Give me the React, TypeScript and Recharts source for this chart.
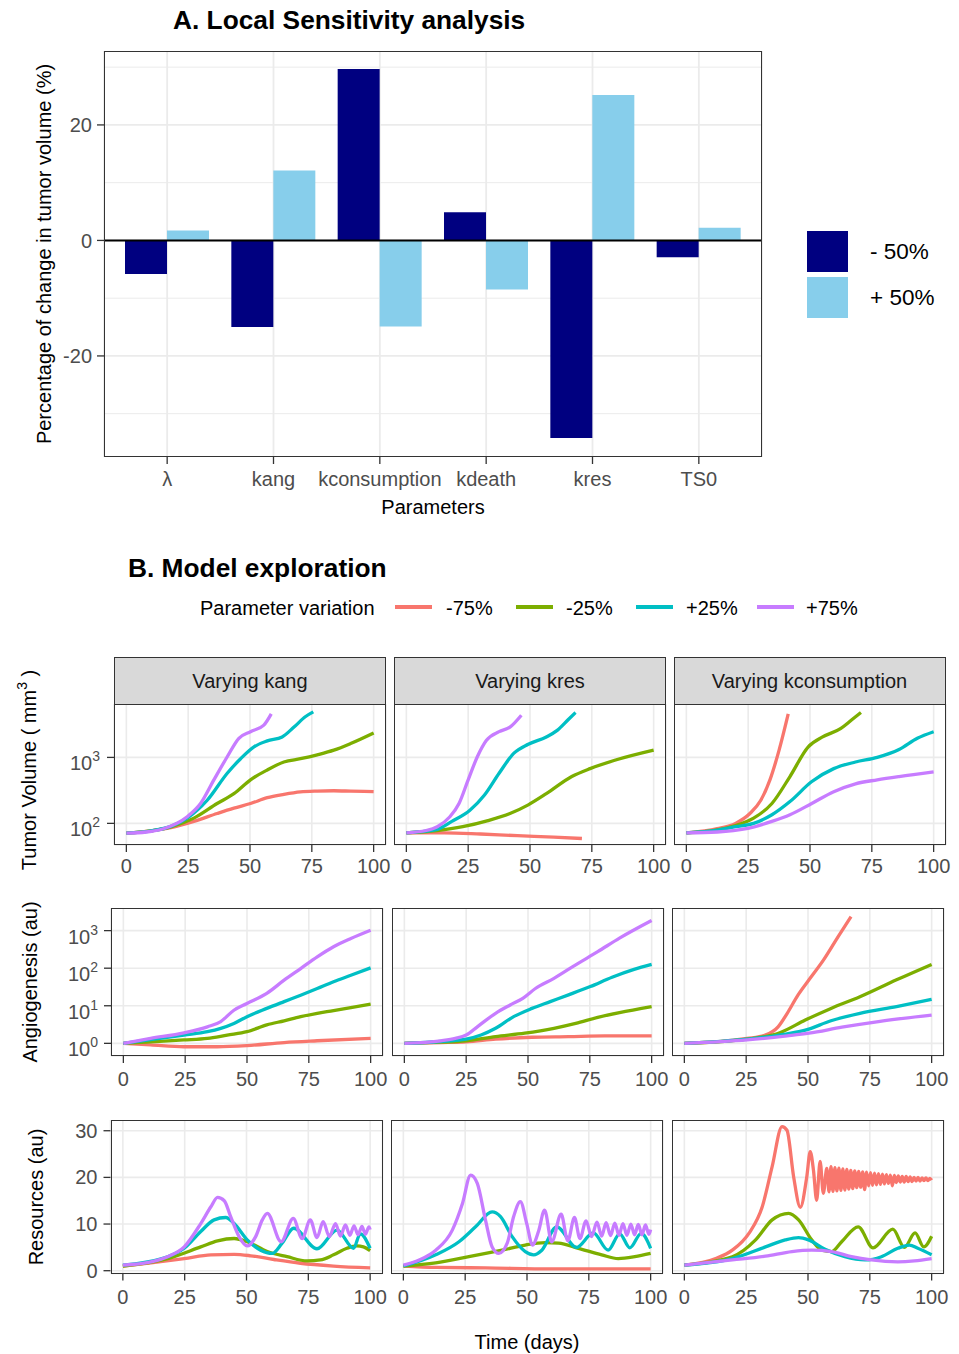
import React from "react";
import {
  BarChart,
  Bar,
  LineChart,
  Line,
  XAxis,
  YAxis,
  CartesianGrid,
  ReferenceLine,
} from "recharts";

const FONT = '"Liberation Sans", Arial, Helvetica, sans-serif';
const TICK_GREY = "#4d4d4d";
const BORDER = "#333333";
const GRID = "#ebebeb";

// ---------- A. Local sensitivity analysis ----------
const parameters = ["λ", "kang", "kconsumption", "kdeath", "kres", "TS0"];
const changeMinus50 = [-5.8, -15.0, 29.7, 4.9, -34.2, -2.9];
const changePlus50 = [1.7, 12.1, -14.9, -8.5, 25.2, 2.2];
const sensTicks = [-20, 0, 20];
const sensMinorTicks = [-30, -10, 10, 30];
const sensLegend = ["- 50%", "+ 50%"];
const sensColors = ["#000080", "#87CEEB"];

// ---------- B. Model exploration ----------
const variationLabels = ["-75%", "-25%", "+25%", "+75%"];
const variationColors = ["#F8766D", "#7CAE00", "#00BFC4", "#C77CFF"];
const facetTitles = ["Varying kang", "Varying kres", "Varying kconsumption"];
const timeTicks = [0, 25, 50, 75, 100];

type Pt = [number, number]; // [day, value]

// tumor volume (mm3)
const tumorKangM75: Pt[] = [[0, 71], [10, 77], [18, 86], [27.3, 107], [36.7, 141], [43.5, 170], [50.2, 200], [57, 245], [63.7, 275], [70.4, 300], [77.2, 309], [83.9, 312], [90.7, 308], [100, 302]];
const tumorKangM25: Pt[] = [[0, 71], [10, 77], [18, 88], [27.3, 120], [36.7, 200], [43.5, 282], [50.2, 457], [57, 646], [63.7, 851], [70.4, 955], [77.2, 1096], [83.9, 1288], [90.7, 1622], [100, 2344]];
const tumorKangP25: Pt[] = [[0, 71], [10, 77], [18, 90], [24.6, 120], [32.7, 224], [40.8, 575], [46.2, 955], [51.6, 1445], [57, 1778], [63, 2042], [67.8, 2884], [72.5, 4169], [75.6, 4898]];
const tumorKangP75: Pt[] = [[0, 71], [8, 74], [15, 83], [24.6, 126], [30, 200], [35.4, 457], [40.8, 1023], [45.5, 1950], [50.2, 2455], [55.6, 3090], [58.6, 4571]];

const tumorKresM75: Pt[] = [[0, 72], [15.4, 72], [30, 69], [44.9, 65], [59.6, 62], [71, 59]];
const tumorKresM25: Pt[] = [[0, 72], [12.5, 78], [22.8, 89], [33, 110], [41.9, 141], [49.3, 191], [56.6, 282], [66.9, 513], [74.3, 676], [84.6, 912], [100, 1288]];
const tumorKresP25: Pt[] = [[0, 72], [8, 76], [12.5, 81], [18.4, 107], [25.7, 158], [31.6, 269], [37.5, 575], [43.4, 1148], [49.3, 1585], [56.6, 2042], [61, 2570], [65.4, 3715], [68.4, 4786]];
const tumorKresP75: Pt[] = [[0, 72], [8, 78], [12.5, 89], [17.6, 126], [21.3, 200], [25, 457], [28.7, 1023], [32.4, 1820], [37.5, 2455], [41.9, 2884], [46.5, 4365]];

const tumorConsM75: Pt[] = [[0, 72], [12.5, 83], [19.9, 100], [25.7, 141], [30.1, 224], [33.8, 457], [37.5, 1288], [41.2, 4571]];
const tumorConsM25: Pt[] = [[0, 72], [12.5, 80], [19.9, 93], [27.2, 120], [34.6, 200], [41.9, 513], [49.3, 1445], [55.1, 2042], [62.5, 2754], [66.9, 3715], [70.6, 4786]];
const tumorConsP25: Pt[] = [[0, 72], [12.5, 79], [19.9, 89], [27.2, 100], [34.6, 135], [41.9, 214], [50.6, 427], [59.6, 676], [68.4, 851], [77.2, 1000], [86, 1318], [93.4, 1950], [100, 2455]];
const tumorConsP75: Pt[] = [[0, 72], [12.5, 74], [24.3, 83], [34.6, 107], [41.9, 135], [50.7, 200], [59.6, 302], [68.4, 398], [77.2, 457], [86, 513], [100, 603]];

// angiogenesis (au)
const angioKangM75: Pt[] = [[0, 1], [11, 0.91], [24.5, 0.81], [38, 0.81], [50, 0.87], [65, 1.05], [78.4, 1.17], [100, 1.35]];
const angioKangM25: Pt[] = [[0, 1], [11, 1.1], [24.5, 1.23], [34, 1.35], [42, 1.66], [50, 2.04], [58, 3.09], [65, 3.98], [71.7, 5.13], [78.4, 6.31], [85, 7.41], [92, 8.91], [100, 11]];
const angioKangP25: Pt[] = [[0, 1], [11, 1.25], [24.5, 1.66], [34, 2.04], [39.4, 2.51], [44.7, 3.39], [50, 5.13], [58, 8.51], [65, 12.9], [71.7, 19.1], [78.4, 28.8], [85, 43.7], [92, 64.6], [100, 102]];
const angioKangP75: Pt[] = [[0, 1], [11, 1.35], [24.5, 1.9], [34, 2.75], [39.4, 3.8], [44.7, 7.6], [50, 11.5], [58, 21.4], [65, 47.9], [71.7, 97.7], [78.4, 200], [85, 372], [92, 617], [100, 1023]];

const angioKresM75: Pt[] = [[0, 1], [14.7, 1.05], [25, 1.1], [36.9, 1.29], [51.6, 1.45], [66.4, 1.51], [81, 1.58], [100, 1.58]];
const angioKresM25: Pt[] = [[0, 1], [14.7, 1.07], [25, 1.17], [36.9, 1.51], [48.7, 1.86], [60.5, 2.51], [69.3, 3.39], [78.2, 4.9], [87, 6.61], [100, 9.55]];
const angioKresP25: Pt[] = [[0, 1], [14.7, 1.12], [25, 1.29], [31, 1.66], [36.9, 2.51], [44.2, 5.13], [51.6, 8.51], [59, 12.9], [66.4, 19.5], [75.2, 32.4], [84, 57.5], [92.9, 93.3], [100, 126]];
const angioKresP75: Pt[] = [[0, 1], [14.7, 1.17], [20.6, 1.35], [25, 1.66], [29.5, 2.75], [36.9, 6.31], [42.8, 10.5], [47.9, 15.8], [53, 28.8], [60.5, 53.7], [69.3, 123], [78.2, 275], [87, 631], [100, 1862]];

const angioConsM75: Pt[] = [[0, 1], [12.7, 1.1], [25.4, 1.35], [32.7, 1.66], [37.9, 2.75], [41.6, 6.31], [46, 19.5], [50.4, 49], [56.3, 166], [62.2, 692], [67.4, 2344]];
const angioConsM25: Pt[] = [[0, 1], [25.4, 1.29], [38.6, 1.91], [48.9, 4.17], [59.3, 8.51], [71, 17.4], [85.8, 49], [100, 126]];
const angioConsP25: Pt[] = [[0, 1], [25.4, 1.29], [41.6, 1.78], [48.9, 2.24], [59.3, 3.98], [71, 6.31], [85.8, 9.55], [100, 14.8]];
const angioConsP75: Pt[] = [[0, 1], [25.4, 1.23], [41.6, 1.58], [50.4, 1.86], [63.7, 2.69], [78.5, 3.8], [100, 5.62]];

// resources (au)
const resKangM75: Pt[] = [[0, 1.0], [11.4, 1.7], [24.8, 2.6], [35.6, 3.4], [45, 3.5], [51.7, 3.2], [61.1, 2.4], [71.8, 1.6], [85.2, 1.0], [100, 0.6]];
const resKangM25: Pt[] = [[0, 1.0], [18.1, 2.6], [31.5, 5.1], [38.3, 6.4], [45, 6.9], [50.3, 6.2], [58.4, 4.1], [66.4, 3.0], [74.5, 2.1], [79.9, 2.3], [85.2, 3.4], [90.6, 4.8], [94.6, 5.3], [97.3, 5.1], [100, 4.3]];
const resKangP25: Pt[] = [[0, 1.2], [18.1, 3.0], [24.8, 4.8], [31.5, 8.4], [36.9, 10.9], [41.6, 11.4], [45, 10.1], [50.3, 6.6], [55.7, 4.4], [60.4, 3.7], [64.4, 5.9], [69.1, 9.1], [78.5, 4.7], [86.6, 8.7], [93.3, 4.8], [96, 7.9], [100, 4.8]];
const resKangP75: Pt[] = [[0, 1.2], [11.4, 1.9], [18.1, 3.0], [24.8, 5.1], [31.5, 10.1], [35.6, 13.7], [38.3, 15.7], [41, 15.0], [43.6, 11.6], [47, 7.3], [50.3, 5.3], [53.7, 7.3], [56.4, 10.9], [58.4, 12.3], [64, 6.2], [68.9, 11.2], [72.5, 6.9], [75.8, 10.9], [78.5, 7.1], [81, 10.5], [83.5, 7.3], [86, 10.1], [88, 7.4], [90, 9.8], [91.8, 7.6], [93.5, 9.6], [95.1, 7.7], [96.7, 9.5], [98.1, 7.8], [99.5, 9.4], [100, 8.8]];

const resKresM75: Pt[] = [[0, 1.0], [13.1, 0.7], [33.2, 0.6], [60, 0.4], [100, 0.4]];
const resKresM25: Pt[] = [[0, 1.0], [13.1, 1.7], [26.5, 3.0], [39.9, 4.4], [49.3, 5.5], [57.4, 6.0], [62.7, 5.9], [70.8, 4.8], [80.2, 3.4], [86.9, 2.6], [93.6, 3.0], [100, 3.7]];
const resKresP25: Pt[] = [[0, 1.0], [13.1, 3.4], [22.5, 6.2], [29.2, 9.4], [35.9, 12.6], [39.3, 11.6], [44, 7.3], [49.3, 4.1], [52.7, 3.4], [56, 4.4], [62, 9.4], [70, 5.0], [76.8, 8.1], [82.8, 4.4], [87.5, 7.9], [91.6, 4.9], [96.2, 8.0], [100, 4.8]];
const resKresP75: Pt[] = [[0, 1.2], [6.4, 2.3], [13.1, 4.4], [19.8, 8.7], [23.9, 14.4], [27.2, 20.5], [29.9, 18.7], [33.2, 10.9], [35.9, 5.1], [38.6, 3.7], [42, 5.9], [44.6, 11.6], [47.3, 14.8], [49.9, 10.1], [52.2, 5.5], [54.7, 8.5], [57.1, 13.0], [60, 6.2], [63.8, 12.1], [66.5, 6.4], [69.2, 11.4], [71.4, 6.9], [73.9, 10.7], [76.1, 7.3], [78.3, 10.4], [80.2, 7.4], [82, 10.3], [83.8, 7.5], [85.5, 10.2], [87.2, 7.6], [88.8, 10.1], [90.4, 7.6], [92, 10.0], [93.5, 7.7], [95, 9.9], [96.5, 7.7], [97.9, 9.8], [99.3, 7.8], [100, 8.8]];

const resConsM75: Pt[] = [[0, 1.2], [12.7, 2.6], [19.4, 4.4], [26.1, 8.0], [31.5, 13.7], [35.5, 22.3], [39.5, 30.9], [41.5, 30.1], [44.2, 20.1], [46.9, 13.6], [49.5, 20.1], [50.9, 25.5], [52.2, 21.6], [53.5, 15.1], [54.9, 23.4], [56.2, 16.6], [57.6, 21.9], [58.5, 16.9], [59.3, 22.3], [60.1, 17.0], [60.9, 22.1], [61.7, 17.1], [62.5, 22.0], [63.3, 17.2], [64.1, 21.8], [64.9, 17.3], [65.7, 21.7], [66.5, 17.5], [67.3, 21.5], [68.1, 17.6], [68.9, 21.4], [69.7, 17.8], [70.5, 21.3], [71.3, 17.9], [72.1, 21.2], [72.9, 17.4], [73.7, 21.1], [74.5, 18.2], [75.3, 21.0], [76.1, 18.3], [76.9, 20.9], [77.7, 18.4], [78.5, 20.8], [79.3, 18.5], [80.1, 20.7], [80.9, 18.6], [81.7, 20.6], [82.5, 18.7], [83.3, 20.5], [84.1, 18.2], [84.9, 20.4], [85.7, 18.9], [86.5, 20.3], [87.3, 19.0], [88.1, 20.2], [88.9, 19.0], [89.7, 20.2], [90.5, 19.1], [91.3, 20.1], [92.1, 19.1], [92.9, 20.0], [93.7, 19.2], [94.5, 20.0], [95.3, 19.2], [96.1, 19.9], [96.9, 19.3], [97.7, 19.9], [98.5, 19.3], [99.3, 19.8], [100, 19.4]];
const resConsM25: Pt[] = [[0, 1.2], [19.4, 3.0], [28.8, 6.6], [35.5, 10.9], [42.2, 12.3], [46.2, 10.9], [51.5, 6.6], [55.6, 4.4], [59.6, 4.1], [63.6, 6.2], [70.3, 9.4], [76.3, 4.9], [84.3, 8.9], [89, 5.0], [93.3, 8.1], [96.8, 5.1], [100, 7.4]];
const resConsP25: Pt[] = [[0, 1.2], [19.4, 2.6], [32.8, 5.1], [40.8, 6.6], [46.2, 7.1], [50.2, 6.6], [56.9, 4.6], [64.9, 3.0], [73, 2.3], [79.7, 3.0], [86.3, 4.8], [91, 5.5], [94.4, 4.8], [100, 3.4]];
const resConsP75: Pt[] = [[0, 1.2], [19.4, 2.3], [32.8, 3.1], [43.5, 4.1], [51.5, 4.4], [59.6, 4.1], [67.6, 3.0], [75.6, 2.3], [86.3, 1.9], [93, 2.1], [100, 2.6]];

const tumorSeries = [
  [tumorKangM75, tumorKangM25, tumorKangP25, tumorKangP75],
  [tumorKresM75, tumorKresM25, tumorKresP25, tumorKresP75],
  [tumorConsM75, tumorConsM25, tumorConsP25, tumorConsP75],
];
const angioSeries = [
  [angioKangM75, angioKangM25, angioKangP25, angioKangP75],
  [angioKresM75, angioKresM25, angioKresP25, angioKresP75],
  [angioConsM75, angioConsM25, angioConsP25, angioConsP75],
];
const resSeries = [
  [resKangM75, resKangM25, resKangP25, resKangP75],
  [resKresM75, resKresM25, resKresP25, resKresP75],
  [resConsM75, resConsM25, resConsP25, resConsP75],
];

const toPoints = (pts: Pt[]) => pts.map(([t, v]) => ({ t, v }));

const sensitivityRows = parameters.map((param, i) => ({
  param,
  minus: changeMinus50[i],
  plus: changePlus50[i],
}));

const tickStyle = { fontSize: 20, fill: TICK_GREY, fontFamily: FONT };
const tickLineStyle = { stroke: BORDER, strokeWidth: 1.3 };

// "10^n" labels for the log axes
const PowerTick = (props: any) => {
  const { x, y, payload } = props;
  const exp = Math.round(Math.log10(payload.value));
  return (
    <text x={x} y={y + 13} textAnchor="end" fill={TICK_GREY} fontFamily={FONT} fontSize={20}>
      10
      <tspan dy={-9} fontSize={14}>
        {exp}
      </tspan>
    </text>
  );
};

const PANEL_W = 272;
const RIGHT_ROOM = 24; // room for the "100" tick label past the panel edge

const facetRows = [
  {
    top: 704,
    height: 141,
    lefts: [114, 394, 673.5],
    scale: "log",
    domain: [47, 6450],
    ticks: [100, 1000],
    yMargin: 7,
    xMargin: 7,
    power: true,
    series: tumorSeries,
  },
  {
    top: 908,
    height: 148,
    lefts: [111, 391.5, 672],
    scale: "log",
    domain: [0.46, 4000],
    ticks: [1, 10, 100, 1000],
    yMargin: 6,
    xMargin: 9,
    power: true,
    series: angioSeries,
  },
  {
    top: 1120,
    height: 153.5,
    lefts: [110.5, 390.5, 671.5],
    scale: "linear",
    domain: [-0.6, 32.3],
    ticks: [0, 10, 20, 30],
    yMargin: 6,
    xMargin: 9.5,
    power: false,
    series: resSeries,
  },
];

function Facet(props: any) {
  const { left, top, height, yAxisWidth, row, lines } = props;
  return (
    <div style={{ position: "absolute", left: left - yAxisWidth, top }}>
      <LineChart
        width={yAxisWidth + PANEL_W + RIGHT_ROOM}
        height={height + 40}
        margin={{ top: 0, right: RIGHT_ROOM, bottom: 0, left: 0 }}
      >
        <CartesianGrid stroke={GRID} strokeWidth={1.6} />
        <XAxis
          type="number"
          dataKey="t"
          domain={[-5, 105]}
          ticks={timeTicks}
          interval={0}
          allowDataOverflow
          height={40}
          tickSize={7}
          tickMargin={row.xMargin}
          tick={tickStyle}
          tickLine={tickLineStyle}
          axisLine={false}
        />
        <YAxis
          type="number"
          scale={row.scale}
          domain={row.domain}
          ticks={row.ticks}
          interval={0}
          allowDataOverflow
          width={yAxisWidth}
          hide={yAxisWidth === 0}
          tickSize={7}
          tickMargin={row.yMargin}
          tick={row.power ? <PowerTick /> : tickStyle}
          tickLine={tickLineStyle}
          axisLine={false}
        />
        {lines.map((pts: Pt[], i: number) => (
          <Line
            key={variationLabels[i]}
            data={toPoints(pts)}
            dataKey="v"
            type="monotone"
            stroke={variationColors[i]}
            strokeWidth={3.3}
            dot={false}
            isAnimationActive={false}
          />
        ))}
      </LineChart>
      <div
        style={{
          position: "absolute",
          left: yAxisWidth,
          top: 0,
          width: PANEL_W,
          height,
          border: `1.4px solid ${BORDER}`,
          boxSizing: "border-box",
          pointerEvents: "none",
        }}
      />
    </div>
  );
}

function Label(props: any) {
  const { x, y, size = 20, weight = 400, center = true, rotate = false, color = "#000", children } = props;
  let transform = center ? "translate(-50%, -50%)" : "translateY(-50%)";
  if (rotate) transform += " rotate(-90deg)";
  return (
    <div
      style={{
        position: "absolute",
        left: x,
        top: y,
        transform,
        fontSize: size,
        fontWeight: weight,
        lineHeight: 1,
        whiteSpace: "nowrap",
        color,
      }}
    >
      {children}
    </div>
  );
}

export default function App() {
  return (
    <div
      style={{
        position: "absolute",
        left: 0,
        top: 0,
        width: 959,
        height: 1354,
        background: "#fff",
        fontFamily: FONT,
        overflow: "hidden",
      }}
    >
      {/* ---------- A ---------- */}
      <Label x={173} y={20} size={26.3} weight={700} center={false}>
        A. Local Sensitivity analysis
      </Label>
      <div style={{ position: "absolute", left: 0, top: 0 }}>
        <BarChart
          width={770}
          height={520}
          data={sensitivityRows}
          margin={{ top: 51, right: 8, left: 0, bottom: 0 }}
          barCategoryGap={11}
          barGap={0}
        >
          <CartesianGrid horizontalValues={sensMinorTicks} vertical={false} stroke={GRID} strokeWidth={1} />
          <CartesianGrid horizontalValues={sensTicks} stroke={GRID} strokeWidth={1.8} />
          <XAxis
            dataKey="param"
            padding={{ left: 10, right: 10 }}
            height={63}
            interval={0}
            tickSize={7}
            tickMargin={8}
            tick={tickStyle}
            tickLine={tickLineStyle}
            axisLine={false}
          />
          <YAxis
            type="number"
            domain={[-37.5, 32.8]}
            ticks={sensTicks}
            allowDataOverflow
            width={104}
            tickSize={7}
            tickMargin={5}
            tick={tickStyle}
            tickLine={tickLineStyle}
            axisLine={false}
          />
          <Bar dataKey="minus" fill={sensColors[0]} isAnimationActive={false} />
          <Bar dataKey="plus" fill={sensColors[1]} isAnimationActive={false} />
          <ReferenceLine y={0} stroke="#000" strokeWidth={2} />
        </BarChart>
      </div>
      <div
        style={{
          position: "absolute",
          left: 104,
          top: 51,
          width: 658,
          height: 406,
          border: `1.4px solid ${BORDER}`,
          boxSizing: "border-box",
          pointerEvents: "none",
        }}
      />
      <Label x={44} y={254} rotate>
        Percentage of change in tumor volume (%)
      </Label>
      <Label x={433} y={507}>Parameters</Label>
      {sensLegend.map((lab, i) => (
        <React.Fragment key={lab}>
          <div
            style={{
              position: "absolute",
              left: 807,
              top: 231 + i * 46,
              width: 41,
              height: 41,
              background: sensColors[i],
            }}
          />
          <Label x={870} y={252 + i * 45.5} size={22.5} center={false}>
            {lab}
          </Label>
        </React.Fragment>
      ))}

      {/* ---------- B ---------- */}
      <Label x={128} y={568} size={26.3} weight={700} center={false}>
        B. Model exploration
      </Label>
      <Label x={200} y={608} center={false}>
        Parameter variation
      </Label>
      {variationLabels.map((lab, i) => (
        <React.Fragment key={lab}>
          <div
            style={{
              position: "absolute",
              left: 395 + i * 120.5,
              top: 605,
              width: 37,
              height: 4,
              background: variationColors[i],
            }}
          />
          <Label x={446 + i * 120} y={608} center={false}>
            {lab}
          </Label>
        </React.Fragment>
      ))}

      {facetTitles.map((title, c) => (
        <div
          key={title}
          style={{
            position: "absolute",
            left: facetRows[0].lefts[c],
            top: 657,
            width: PANEL_W,
            height: 48,
            background: "#d9d9d9",
            border: `1.4px solid ${BORDER}`,
            boxSizing: "border-box",
            display: "flex",
            alignItems: "center",
            justifyContent: "center",
            fontSize: 20,
            color: "#1a1a1a",
          }}
        >
          {title}
        </div>
      ))}

      {facetRows.map((row, r) =>
        row.lefts.map((left, c) => (
          <Facet
            key={`${r}-${c}`}
            left={left}
            top={row.top}
            height={row.height}
            yAxisWidth={c === 0 ? left : 0}
            row={row}
            lines={row.series[c]}
          />
        ))
      )}

      <Label x={29} y={770} rotate>
        Tumor Volume ( mm
        <span style={{ fontSize: 14, position: "relative", top: -9 }}>3</span> )
      </Label>
      <Label x={30} y={982} rotate>
        Angiogenesis (au)
      </Label>
      <Label x={36} y={1197} rotate>
        Resources (au)
      </Label>
      <Label x={527} y={1342}>Time (days)</Label>
    </div>
  );
}
